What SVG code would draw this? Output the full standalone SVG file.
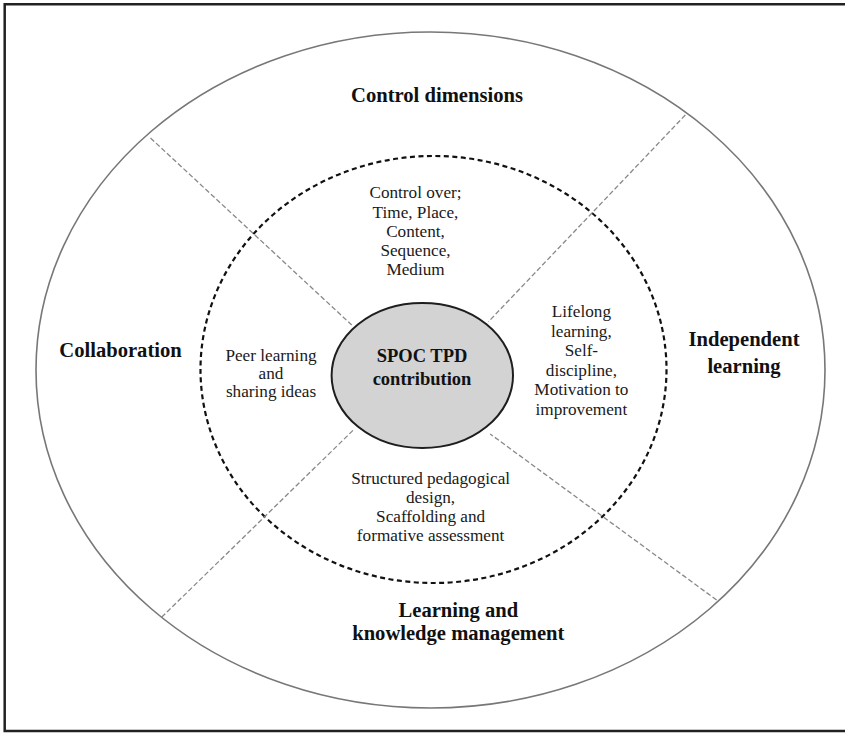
<svg xmlns="http://www.w3.org/2000/svg" width="845" height="733" viewBox="0 0 845 733">
  <style>
    .frame { fill: none; stroke: #222; stroke-width: 2.5; }
    .outer { fill: none; stroke: #777; stroke-width: 1.6; }
    .ring { fill: none; stroke: #111; stroke-width: 2.2; stroke-dasharray: 5 3.5; }
    .core { fill: #d3d3d3; stroke: #1e1e1e; stroke-width: 2; }
    .divider { fill: none; stroke: #888; stroke-width: 1.3; stroke-dasharray: 5 2.5; }
    .head { font-family: "Liberation Serif", "Times New Roman", serif; font-weight: bold; font-size: 20.6px; fill: #111; text-anchor: middle; }
    .body { font-family: "Liberation Serif", "Times New Roman", serif; font-size: 17.2px; fill: #1a1a1a; text-anchor: middle; }
    .coretext { font-family: "Liberation Serif", "Times New Roman", serif; font-weight: bold; font-size: 18.5px; fill: #111; text-anchor: middle; }
  </style>
  <rect width="845" height="733" fill="#fff"/>

  <!-- open frame: top, left and bottom edges -->
  <path class="frame" d="M845 4.2 H4.7 V731 H845"/>

  <!-- outer boundary and dashed inner ring -->
  <ellipse id="outer-ring" class="outer" cx="430.5" cy="370" rx="394.5" ry="338"/>
  <ellipse id="inner-ring" class="ring" cx="433.5" cy="369.5" rx="233" ry="213.5"/>

  <!-- quadrant dividers -->
  <g id="connectors">
    <line class="divider" x1="150.5" y1="138" x2="351.7" y2="325"/>
    <line class="divider" x1="685.3" y1="115" x2="488.5" y2="321.7"/>
    <line class="divider" x1="161.6" y1="617.3" x2="353.4" y2="430"/>
    <line class="divider" x1="716.6" y1="600" x2="490.2" y2="434"/>
  </g>

  <!-- centre -->
  <g id="spoc-tpd">
    <ellipse class="core" cx="422.3" cy="375.5" rx="90.7" ry="72.5"/>
    <text class="coretext" x="422" y="361.7">SPOC TPD</text>
    <text class="coretext" x="422" y="385">contribution</text>
  </g>

  <!-- outer dimension labels -->
  <g id="control-dimensions">
    <text class="head" x="437" y="102.3">Control dimensions</text>
  </g>
  <g id="collaboration">
    <text class="head" x="120.5" y="357">Collaboration</text>
  </g>
  <g id="independent-learning">
    <text class="head" x="744" y="346">Independent</text>
    <text class="head" x="744" y="373">learning</text>
  </g>
  <g id="learning-knowledge">
    <text class="head" x="458.3" y="617.3">Learning and</text>
    <text class="head" x="458.3" y="640">knowledge management</text>
  </g>

  <!-- inner ring contents -->
  <g id="control-over">
    <text class="body" x="415.5" y="198.3">Control over;</text>
    <text class="body" x="415.5" y="217.5">Time, Place,</text>
    <text class="body" x="415.5" y="236.7">Content,</text>
    <text class="body" x="415.5" y="256">Sequence,</text>
    <text class="body" x="415.5" y="275">Medium</text>
  </g>
  <g id="peer-learning">
    <text class="body" x="271" y="361.2">Peer learning</text>
    <text class="body" x="271" y="379.2">and</text>
    <text class="body" x="271" y="397">sharing ideas</text>
  </g>
  <g id="lifelong-learning">
    <text class="body" x="581.4" y="317">Lifelong</text>
    <text class="body" x="581.4" y="336.5">learning,</text>
    <text class="body" x="581.4" y="356">Self-</text>
    <text class="body" x="581.4" y="375.5">discipline,</text>
    <text class="body" x="581.4" y="395">Motivation to</text>
    <text class="body" x="581.4" y="414.5">improvement</text>
  </g>
  <g id="structured-design">
    <text class="body" x="430.6" y="483.5">Structured pedagogical</text>
    <text class="body" x="430.6" y="502.5">design,</text>
    <text class="body" x="430.6" y="521.5">Scaffolding and</text>
    <text class="body" x="430.6" y="540.5">formative assessment</text>
  </g>
</svg>
